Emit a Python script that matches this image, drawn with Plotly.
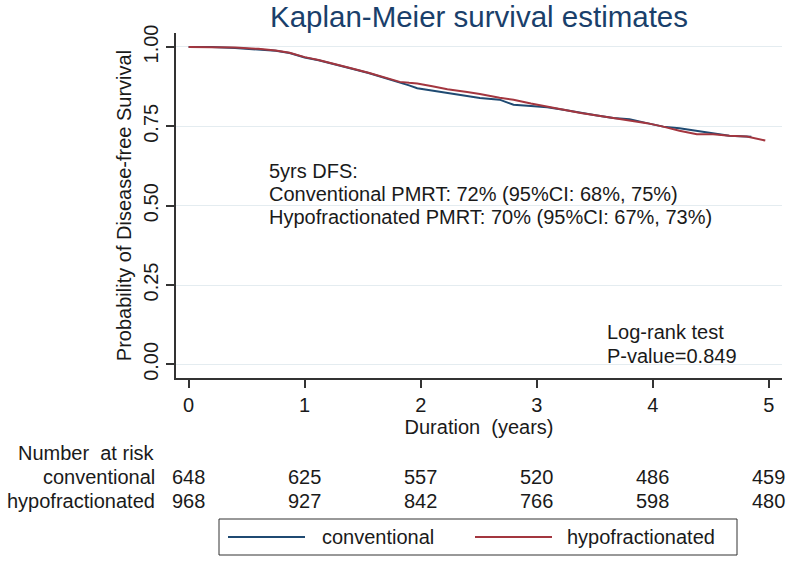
import plotly.graph_objects as go

# ---------------- data ----------------
time_conv = [0, 0.2, 0.4, 0.6, 0.75, 0.87, 1.0, 1.12, 1.25, 1.4, 1.55, 1.7, 1.82, 1.9, 1.97,
             2.1, 2.23, 2.4, 2.51, 2.68, 2.8, 2.95, 3.09, 3.23, 3.38, 3.52, 3.66, 3.8, 3.95,
             4.09, 4.23, 4.38, 4.52, 4.66, 4.85]
surv_conv = [1.0, 1.0, 0.997, 0.993, 0.988, 0.981, 0.967, 0.958, 0.947, 0.932, 0.918, 0.902,
             0.888, 0.879, 0.870, 0.862, 0.855, 0.846, 0.839, 0.834, 0.818, 0.814, 0.810, 0.802,
             0.792, 0.784, 0.776, 0.772, 0.760, 0.749, 0.744, 0.736, 0.728, 0.720, 0.717]

time_hypo = [0, 0.2, 0.4, 0.6, 0.75, 0.87, 1.0, 1.12, 1.25, 1.4, 1.55, 1.7, 1.82, 1.9, 1.97,
             2.1, 2.23, 2.4, 2.51, 2.68, 2.8, 2.95, 3.09, 3.23, 3.38, 3.52, 3.66, 3.8, 3.95,
             4.09, 4.23, 4.38, 4.52, 4.66, 4.81, 4.97]
surv_hypo = [1.0, 1.0, 0.998, 0.994, 0.989, 0.982, 0.968, 0.959, 0.948, 0.933, 0.919, 0.903,
             0.890, 0.887, 0.885, 0.876, 0.867, 0.858, 0.852, 0.840, 0.834, 0.822, 0.812, 0.802,
             0.792, 0.784, 0.776, 0.768, 0.760, 0.749, 0.736, 0.725, 0.725, 0.720, 0.718, 0.705]

risk_times = [0, 1, 2, 3, 4, 5]
risk_conv = [648, 625, 557, 520, 486, 459]
risk_hypo = [968, 927, 842, 766, 598, 480]

group_names = ["conventional", "hypofractionated"]
y_ticks = [0, 0.25, 0.5, 0.75, 1.0]
y_tick_labels = ["0.00", "0.25", "0.50", "0.75", "1.00"]

title_text = "Kaplan-Meier survival estimates"
dfs_lines = ["5yrs DFS:",
             "Conventional PMRT: 72% (95%CI: 68%, 75%)",
             "Hypofractionated PMRT: 70% (95%CI: 67%, 73%)"]
logrank_lines = ["Log-rank test", "P-value=0.849"]

# ---------------- style ----------------
W, H = 787, 561
ML, MR, MT, MB = 176, 5, 33, 183
FONT = "Liberation Sans, Arial, sans-serif"
TXT = "#1a1a1a"
C_CONV = "#1f4a72"
C_HYPO = "#a3363f"


def px_x(px):
    return (px - ML) / (W - ML - MR)


def px_y(py):
    return (H - MB - py) / (H - MT - MB)


fig = go.Figure()
fig.add_trace(go.Scatter(x=time_conv, y=surv_conv, mode="lines", name=group_names[0],
                         line=dict(color=C_CONV, width=2), showlegend=False))
fig.add_trace(go.Scatter(x=time_hypo, y=surv_hypo, mode="lines", name=group_names[1],
                         line=dict(color=C_HYPO, width=2), showlegend=False))

ann = []
# DFS text block
for t, yy in zip(dfs_lines, [0.610, 0.538, 0.464]):
    ann.append(dict(x=0.675, y=yy, xref="x", yref="y", text=t, showarrow=False,
                    xanchor="left", yanchor="middle", font=dict(size=20, color=TXT)))
for t, yy in zip(logrank_lines, [0.103, 0.027]):
    ann.append(dict(x=3.59, y=yy, xref="x", yref="y", text=t, showarrow=False,
                    xanchor="left", yanchor="middle", font=dict(size=20, color=TXT)))

# number at risk table
ann.append(dict(x=px_x(157), y=px_y(453), xref="paper", yref="paper", text="Number  at risk",
                showarrow=False, xanchor="right", yanchor="middle", font=dict(size=20, color=TXT)))
for name, vals, py in [(group_names[0], risk_conv, 477), (group_names[1], risk_hypo, 501)]:
    ann.append(dict(x=px_x(157), y=px_y(py), xref="paper", yref="paper", text=name,
                    showarrow=False, xanchor="right", yanchor="middle",
                    font=dict(size=20, color=TXT)))
    for t, v in zip(risk_times, vals):
        ann.append(dict(x=t, y=px_y(py), xref="x", yref="paper", text=str(v),
                        showarrow=False, xanchor="center", yanchor="middle",
                        font=dict(size=20, color=TXT)))

# custom legend
shapes = [dict(type="rect", xref="paper", yref="paper", x0=px_x(219), x1=px_x(737),
               y0=px_y(519), y1=px_y(555), line=dict(color="#333333", width=1),
               fillcolor="white")]
for (x0, x1, tx, name, col) in [(228, 305, 320, group_names[0], C_CONV),
                                (475, 552, 565, group_names[1], C_HYPO)]:
    shapes.append(dict(type="line", xref="paper", yref="paper", x0=px_x(x0), x1=px_x(x1),
                       y0=px_y(537), y1=px_y(537), line=dict(color=col, width=2)))
    ann.append(dict(x=px_x(tx), y=px_y(537), xref="paper", yref="paper", text=name,
                    showarrow=False, xanchor="left", yanchor="middle",
                    font=dict(size=20, color=TXT)))

fig.update_layout(
    width=W, height=H,
    margin=dict(l=ML, r=MR, t=MT, b=MB),
    paper_bgcolor="white", plot_bgcolor="white",
    font=dict(family=FONT, size=20, color=TXT),
    title=dict(text=title_text, x=0.5, xref="paper", xanchor="center",
               y=1 - 17 / H, yref="container", yanchor="middle",
               font=dict(size=29.5, color="#1a3f6b")),
    annotations=ann,
    shapes=shapes,
    xaxis=dict(range=[-0.109, 5.114], tickvals=risk_times, ticks="outside", ticklen=8,
               tickwidth=1.5, tickcolor="#333333", showline=True, linecolor="#333333",
               linewidth=1.5, showgrid=False, zeroline=False, tickfont=dict(size=20),
               title=dict(text="Duration  (years)", font=dict(size=20), standoff=0)),
    yaxis=dict(range=[-0.043, 1.044], tickvals=y_ticks, ticktext=y_tick_labels,
               tickangle=-90, ticks="outside", ticklen=8, tickwidth=1.5,
               tickcolor="#333333", showline=True, linecolor="#333333", linewidth=1.5,
               showgrid=True, gridcolor="#e4ecf0", gridwidth=1, zeroline=False,
               tickfont=dict(size=20),
               title=dict(text="Probability of Disease-free Survival", font=dict(size=20),
                          standoff=3)),
)

fig.write_html("out.html", config={"displayModeBar": False},
               post_script="document.body.style.margin='0';document.body.style.padding='0';")
